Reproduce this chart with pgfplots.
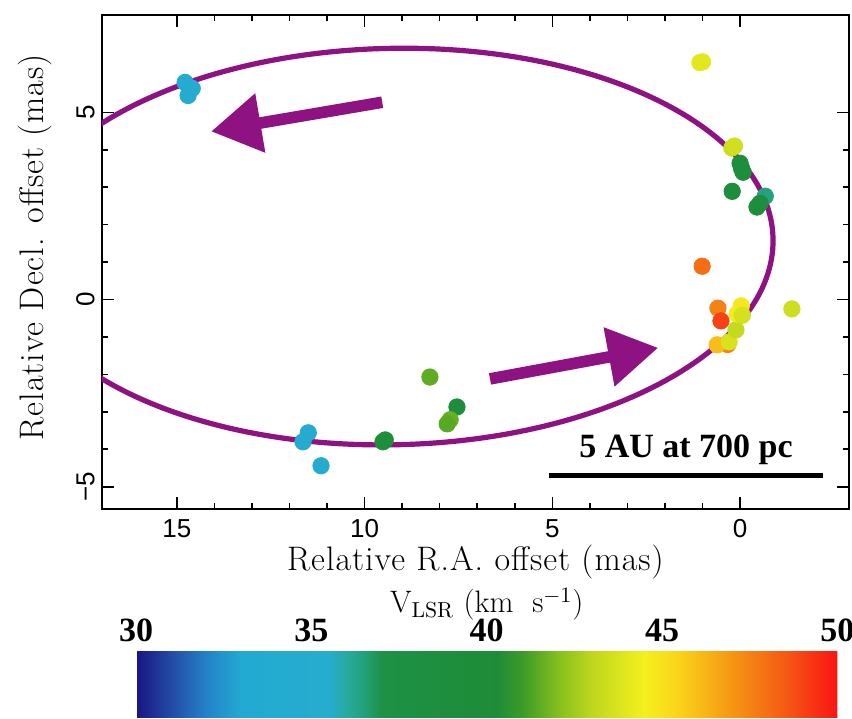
\documentclass[border=0pt]{standalone}
\usepackage{fontspec}
\usepackage{pgfplots}
\pgfplotsset{compat=1.18}
\usetikzlibrary{arrows.meta}
\newfontfamily\ticksf{Liberation Sans}
\newfontfamily\timesfont{Liberation Serif}
\newfontfamily\labelfont[LetterSpace=3]{Latin Modern Roman}
\definecolor{orbit}{RGB}{142,18,130}

\pgfplotsset{
  colormap={vlsr}{
    rgb255(0cm)=(25,20,130); rgb255(1cm)=(35,75,165); rgb255(2cm)=(35,130,200);
    rgb255(3cm)=(35,170,210); rgb255(5.5cm)=(38,172,205); rgb255(6cm)=(40,170,160);
    rgb255(6.5cm)=(35,160,120); rgb255(7cm)=(30,145,70); rgb255(10.3cm)=(30,140,55);
    rgb255(11cm)=(60,155,40); rgb255(12cm)=(130,190,30); rgb255(13cm)=(190,215,30);
    rgb255(14.5cm)=(245,240,30); rgb255(15.5cm)=(250,210,25); rgb255(17cm)=(245,150,20);
    rgb255(18.5cm)=(245,90,20); rgb255(20cm)=(250,20,20)
  }
}

\pgfplotstableread{
x y v
14.78 5.80 34.5
14.59 5.64 34.6
14.70 5.45 34.5
11.50 -3.56 34.4
11.64 -3.80 34.5
11.16 -4.44 34.4
9.51 -3.80 39.0
9.45 -3.75 39.0
8.26 -2.07 41.5
7.54 -2.87 39.2
7.72 -3.21 41.6
7.80 -3.32 41.4
1.07 6.33 44.0
1.00 6.35 44.0
0.22 4.05 43.3
0.15 4.10 43.5
0.00 3.64 39.0
-0.08 3.40 39.0
-0.04 3.50 39.0
0.21 2.89 39.1
-0.67 2.76 36.4
-0.53 2.57 39.0
-0.45 2.47 39.0
1.01 0.89 48.0
-1.38 -0.25 43.4
0.59 -0.23 47.5
0.51 -0.57 49.0
0.33 -1.20 47.5
0.61 -1.21 46.0
0.29 -1.13 43.7
0.11 -0.81 43.2
-0.03 -0.17 44.8
0.08 -0.39 44.3
-0.06 -0.42 43.6
}\masers

\begin{document}
\begin{tikzpicture}
\useasboundingbox (-50.85pt,-104.5pt) rectangle (375pt,254.5pt);
\begin{axis}[
  at={(0,0)}, anchor=south west,
  scale only axis, width=373.5pt, height=247pt,
  x dir=reverse, xmin=-2.9, xmax=17, ymin=-5.6, ymax=7.6,
  xtick={0,5,10,15}, xticklabels={0,5,10,15},
  ytick={-5,0,5}, yticklabels={−5,0,5},
  minor x tick num=4, minor y tick num=4,
  tick align=inside, major tick length=6pt, minor tick length=3pt,
  tick style={black, line width=0.8pt},
  axis line style={line width=0.9pt},
  xticklabel style={font=\fontsize{13}{15}\ticksf, yshift=-1.5pt},
  yticklabel style={font=\fontsize{13}{15}\ticksf, rotate=90, anchor=south},
  xlabel={Relative R.A. offset (mas)},
  ylabel={Relative Decl. offset (mas)},
  label style={font=\fontsize{17}{20}\labelfont},
  xlabel style={at={(axis description cs:0.5,0)}, anchor=center, yshift=-26.5pt},
  ylabel style={at={(axis description cs:-0.0897,0.53)}, anchor=center},
  colormap name=vlsr,
  point meta min=30, point meta max=50,
  colorbar horizontal,
  colorbar/width=32.5pt,
  colorbar style={
    at={(0.046,-0.289)}, anchor=north west,
    scale only axis, width=350.5pt, height=32.5pt,
    xtick={30,35,40,45,50},
    xticklabel pos=upper,
    xticklabel style={font=\fontsize{17}{20}\timesfont\bfseries, yshift=1.5pt},
    /pgf/number format/assume math mode=true,
    major tick length=0pt,
    axis line style={draw=none},
    xlabel={V$_{\mathrm{LSR}}$ (km\ \ s$^{-1}$)},
    xlabel style={font=\fontsize{15.5}{18}\selectfont, yshift=-7.5pt},
  },
]
\draw[orbit, line width=2.6pt, rotate around={1.2:(axis cs:9.25,1.415)}]
  (axis cs:9.25,1.415) ellipse [x radius=10.13, y radius=5.295];
\draw[orbit, line width=5.8pt, -{Triangle[length=25pt,width=28.5pt]}]
  (axis cs:9.53,5.27) -- (axis cs:14.09,4.49);
\draw[orbit, line width=5.8pt, -{Triangle[length=25pt,width=28.5pt]}]
  (axis cs:6.66,-2.12) -- (axis cs:2.18,-1.29);
\addplot[scatter, only marks, mark=*, mark size=4.1pt, scatter src=explicit,
  scatter/use mapped color={draw=mapped color, fill=mapped color}]
  table[x=x, y=y, meta=v] {\masers};
\draw[line width=2.6pt] (axis cs:5.1,-4.71) -- (axis cs:-2.2,-4.71);
\node[font=\fontsize{17}{20}\timesfont\bfseries, anchor=base] at (axis cs:1.44,-4.23) {5 AU at 700 pc};
\end{axis}
\end{tikzpicture}
\end{document}
